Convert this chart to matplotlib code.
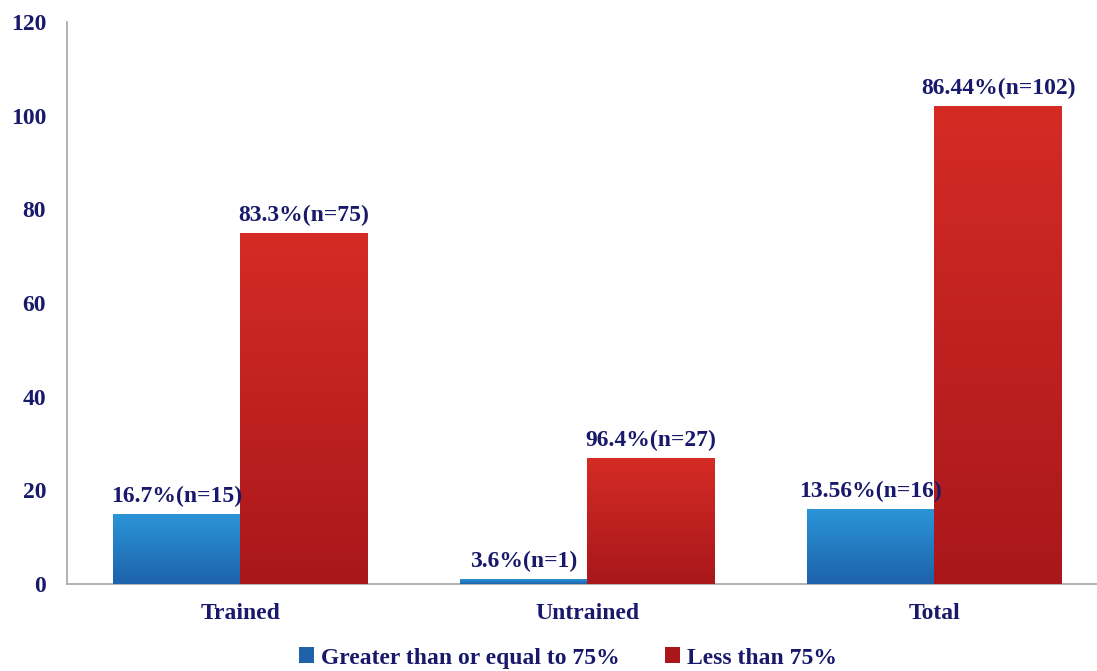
import numpy as np
import matplotlib.pyplot as plt
from matplotlib.colors import LinearSegmentedColormap
from matplotlib.patches import Patch

groups = ['Trained', 'Untrained', 'Total']
above_75 = [15, 1, 16]
below_75 = [75, 27, 102]
above_pct = ['16.7%', '3.6%', '13.56%']
below_pct = ['83.3%', '96.4%', '86.44%']
series_names = ['Greater than or equal to 75%', 'Less than 75%']

text_color = '#18196a'
blue_top, blue_bottom = '#2b95d8', '#1d62aa'
red_top, red_bottom = '#d52b25', '#a9171b'

plt.rcParams['font.family'] = ['Liberation Serif', 'DejaVu Serif']
plt.rcParams['font.weight'] = 'bold'

fig = plt.figure(figsize=(10.97, 6.71), dpi=100)
ax = fig.add_axes([67 / 1097, 87 / 671, 1041 / 1097, 562 / 671])

x = np.arange(len(groups))
width = 0.366


def gradient_bars(xpos, heights, top, bottom):
    cmap = LinearSegmentedColormap.from_list('g', [bottom, top])
    bars = ax.bar(xpos, heights, width, color=top, edgecolor='none', zorder=2)
    grad = np.linspace(0, 1, 256).reshape(-1, 1)
    for b in bars:
        x0, y0 = b.get_x(), b.get_y()
        im = ax.imshow(grad, cmap=cmap, aspect='auto', origin='lower',
                       extent=(x0, x0 + b.get_width(), y0, y0 + b.get_height()),
                       zorder=3)
        im.set_clip_path(b)
    return bars


bars_a = gradient_bars(x - width / 2, above_75, blue_top, blue_bottom)
bars_b = gradient_bars(x + width / 2, below_75, red_top, red_bottom)

for bars, vals, pcts in [(bars_a, above_75, above_pct), (bars_b, below_75, below_pct)]:
    for b, v, p in zip(bars, vals, pcts):
        ax.annotate(f'{p}(n={v})', (b.get_x() + b.get_width() / 2, v),
                    xytext=(0, 5), textcoords='offset points',
                    ha='center', va='bottom', fontsize=17, fontweight='bold',
                    color=text_color, zorder=4)

ax.set_xlim(-0.5, 2.5)
ax.set_ylim(0, 120)
ax.set_yticks(range(0, 121, 20))
ax.set_xticks(x)
ax.set_xticklabels(groups)
ax.tick_params(axis='both', length=0, labelsize=17, labelcolor=text_color)
ax.tick_params(axis='y', pad=15)
ax.tick_params(axis='x', pad=14)
for lbl in ax.get_xticklabels() + ax.get_yticklabels():
    lbl.set_fontweight('bold')

for side in ['top', 'right']:
    ax.spines[side].set_visible(False)
ax.spines['left'].set_color('#a6a6a6')
ax.spines['bottom'].set_color('#a6a6a6')
ax.spines['left'].set_linewidth(1.2)
ax.spines['bottom'].set_linewidth(1.2)

handles = [Patch(facecolor=blue_bottom), Patch(facecolor=red_bottom)]
fig.legend(handles, series_names, loc='center', bbox_to_anchor=(568 / 1097, 1 - 658 / 671),
           ncol=2, frameon=False, handlelength=0.65, handleheight=0.65,
           handletextpad=0.3, columnspacing=1.9,
           prop={'size': 17, 'weight': 'bold'}, labelcolor=text_color)

fig.savefig('out.png', dpi=100)
